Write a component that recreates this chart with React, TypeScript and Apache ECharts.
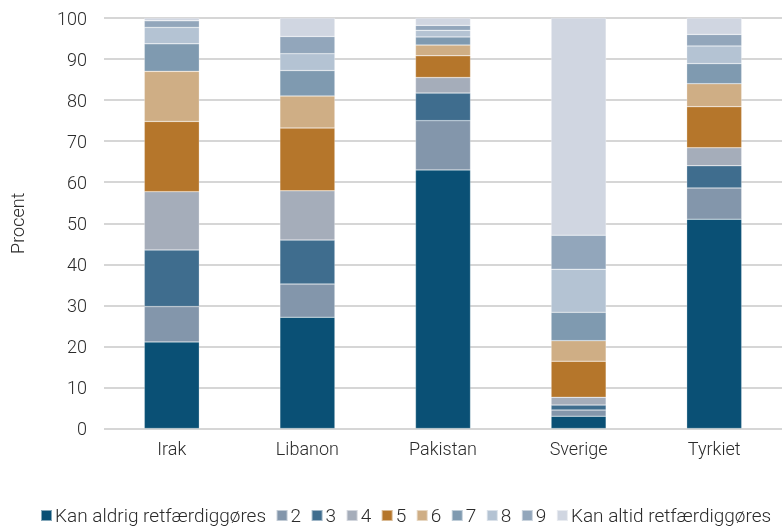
import React, { useEffect, useRef } from "react";
import * as echarts from "echarts";

const categories = ["Irak", "Libanon", "Pakistan", "Sverige", "Tyrkiet"];
const seriesNames = ["Kan aldrig retfærdiggøres", "2", "3", "4", "5", "6", "7", "8", "9", "Kan altid retfærdiggøres"];
const s1 = [21.1, 27.1, 63.0, 3.0, 51.0];
const s2 = [8.6, 8.1, 12.0, 1.5, 7.6];
const s3 = [13.8, 10.7, 6.7, 1.2, 5.4];
const s4 = [14.2, 12.0, 3.8, 1.9, 4.4];
const s5 = [17.1, 15.3, 5.3, 8.8, 10.0];
const s6 = [12.2, 7.8, 2.6, 5.0, 5.6];
const s7 = [6.7, 6.2, 2.0, 6.9, 4.9];
const s8 = [4.0, 4.1, 1.6, 10.5, 4.3];
const s9 = [1.6, 4.2, 1.2, 8.3, 2.8];
const s10 = [0.7, 4.5, 1.8, 52.9, 4.0];
const allSeries = [s1, s2, s3, s4, s5, s6, s7, s8, s9, s10];
const colors = ["#0a5075", "#8396ab", "#3f6d8e", "#a5adba", "#b5762b", "#cfae85", "#7f9ab0", "#b4c3d3", "#92a6bb", "#d0d6e1"];
const yTicks = [0, 10, 20, 30, 40, 50, 60, 70, 80, 90, 100];

const FONT = "Roboto";
const TXT = "#2b2b2b";

export default function App() {
  const ref = useRef<HTMLDivElement>(null);
  useEffect(() => {
    if (!ref.current) return;
    const chart = echarts.init(ref.current, undefined, { renderer: "svg" });
    chart.setOption({
      animation: false,
      textStyle: { fontFamily: FONT },
      grid: { left: 100, top: 18, width: 689, height: 410.5, containLabel: false },
      legend: {
        top: 501,
        left: 35,
        itemWidth: 11,
        itemHeight: 11,
        itemGap: 9.5,
        icon: "rect",
        textStyle: { fontSize: 19, color: TXT, fontFamily: FONT, fontWeight: 300, padding: [0, 0, 0, -2] },
        data: seriesNames,
      },
      xAxis: {
        type: "category",
        data: categories,
        axisLine: { show: false },
        axisTick: { show: false },
        axisLabel: { fontSize: 18, color: TXT, fontWeight: 300, margin: 11 },
      },
      yAxis: {
        type: "value",
        min: yTicks[0],
        max: yTicks[yTicks.length - 1],
        interval: 10,
        name: "Procent",
        nameLocation: "middle",
        nameGap: 78,
        nameTextStyle: { fontSize: 18, color: TXT, fontWeight: 300 },
        axisLine: { show: false },
        axisTick: { show: false },
        axisLabel: { fontSize: 18, color: TXT, fontWeight: 300, margin: 17 },
        splitLine: { lineStyle: { color: "#c8c8c8", width: 1.5 } },
      },
      series: allSeries.map((d, i) => ({
        name: seriesNames[i],
        type: "bar",
        stack: "total",
        data: d,
        barWidth: 55,
        itemStyle: { color: colors[i], borderColor: "rgba(255,255,255,0.5)", borderWidth: 0.5 },
      })),
    });
    return () => chart.dispose();
  }, []);
  return <div ref={ref} style={{ position: "fixed", left: 0, top: 0, width: 782, height: 527 }} />;
}
